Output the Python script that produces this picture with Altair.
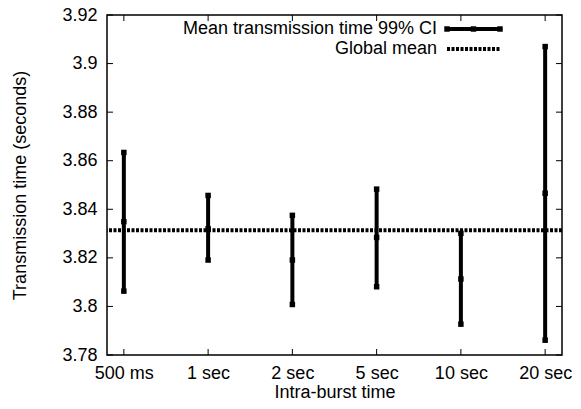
import altair as alt
import pandas as pd

categories = ["500 ms", "1 sec", "2 sec", "5 sec", "10 sec", "20 sec"]
means = [3.8349, 3.8320, 3.8191, 3.8284, 3.8113, 3.8466]
lows = [3.8063, 3.8191, 3.8008, 3.8081, 3.7927, 3.7861]
highs = [3.8634, 3.8457, 3.8375, 3.8483, 3.8301, 3.9070]
global_mean = 3.8314
y_ticks = [3.78, 3.80, 3.82, 3.84, 3.86, 3.88, 3.90, 3.92]
legend_labels = ["Mean transmission time 99% CI", "Global mean"]

FONT = "Liberation Sans"
FS = 18
W, H = 455, 340
TICK = 6

positions = list(range(len(categories)))
df = pd.DataFrame({"pos": positions, "cat": categories, "mean": means, "lo": lows, "hi": highs})
pts = pd.DataFrame({"pos": positions * 3, "v": means + lows + highs})

label_expr = "[" + ",".join(f"'{c}'" for c in categories) + "][datum.value]"

xscale = alt.Scale(domain=[-0.2, 5.2], nice=False, zero=False)
yscale = alt.Scale(domain=[3.78, 3.92], nice=False, zero=False)

x_bottom = alt.Axis(values=positions, labelExpr=label_expr, title="Intra-burst time",
                    domain=False, grid=False, ticks=False, labelPadding=9,
                    titleX=W / 2, titleY=37, titleBaseline="middle", titleAlign="center",
                    labelFont=FONT, titleFont=FONT, labelFontSize=FS,
                    titleFontSize=FS, titleFontWeight="normal", labelColor="black",
                    titleColor="black")
y_left = alt.Axis(values=y_ticks, format="~g", title="Transmission time (seconds)",
                  domain=False, grid=False, ticks=False, labelPadding=10,
                  titleX=-87, titleY=H / 2, titleAngle=270, titleBaseline="middle",
                  titleAlign="center",
                  labelFont=FONT, titleFont=FONT, labelFontSize=FS,
                  titleFontSize=FS, titleFontWeight="normal", labelColor="black",
                  titleColor="black")

bars = alt.Chart(df).mark_rule(color="black", strokeWidth=4).encode(
    x=alt.X("pos:Q", scale=xscale, axis=x_bottom),
    y=alt.Y("lo:Q", scale=yscale, axis=y_left),
    y2="hi:Q",
)

points = alt.Chart(pts).mark_point(shape="square", filled=True, color="black",
                                   size=30, opacity=1).encode(
    x=alt.X("pos:Q", scale=xscale),
    y=alt.Y("v:Q", scale=yscale),
)

gm = alt.Chart(pd.DataFrame({"g": [global_mean]})).mark_rule(
    color="black", strokeWidth=4, strokeDash=[3, 1.5]).encode(
    y=alt.Y("g:Q", scale=yscale),
)

# inward ticks on all four sides (mirror ticks)
ydf = pd.DataFrame({"t": y_ticks})
xdf = pd.DataFrame({"t": positions})
tick_l = alt.Chart(ydf).mark_rule(color="black", strokeWidth=1).encode(
    y=alt.Y("t:Q", scale=yscale), x=alt.value(0), x2=alt.value(TICK))
tick_r = alt.Chart(ydf).mark_rule(color="black", strokeWidth=1).encode(
    y=alt.Y("t:Q", scale=yscale), x=alt.value(W - TICK), x2=alt.value(W))
tick_b = alt.Chart(xdf).mark_rule(color="black", strokeWidth=1).encode(
    x=alt.X("t:Q", scale=xscale), y=alt.value(H - TICK), y2=alt.value(H))
tick_t = alt.Chart(xdf).mark_rule(color="black", strokeWidth=1).encode(
    x=alt.X("t:Q", scale=xscale), y=alt.value(0), y2=alt.value(TICK))

# legend (drawn manually, top right inside the plot)
leg_t1 = alt.Chart(pd.DataFrame({"t": [legend_labels[0]]})).mark_text(
    align="right", baseline="middle", font=FONT, fontSize=FS, color="black").encode(
    x=alt.value(330), y=alt.value(14), text="t:N")
leg_t2 = alt.Chart(pd.DataFrame({"t": [legend_labels[1]]})).mark_text(
    align="right", baseline="middle", font=FONT, fontSize=FS, color="black").encode(
    x=alt.value(330), y=alt.value(34), text="t:N")
leg_line1 = alt.Chart(pd.DataFrame({"a": [0]})).mark_rule(color="black", strokeWidth=4).encode(
    x=alt.value(340), x2=alt.value(393), y=alt.value(14))
leg_pts = alt.Chart(pd.DataFrame({"px": [340, 366.5, 393]})).mark_point(
    shape="square", filled=True, color="black", size=30, opacity=1).encode(
    x=alt.X("px:Q", scale=None), y=alt.value(14))
leg_line2 = alt.Chart(pd.DataFrame({"a": [0]})).mark_rule(
    color="black", strokeWidth=4, strokeDash=[3, 1.5]).encode(
    x=alt.value(340), x2=alt.value(393), y=alt.value(34))

chart = alt.layer(
    tick_l, tick_r, tick_b, tick_t, bars, points, gm,
    leg_t1, leg_t2, leg_line1, leg_pts, leg_line2
).properties(
    width=W, height=H,
    autosize=alt.AutoSizeParams(type="none"),
    padding={"left": 99, "top": 7, "right": 11, "bottom": 46},
).configure_view(stroke="black", strokeWidth=1.5)

chart.save("out.html", embed_options={"renderer": "svg", "actions": False})
